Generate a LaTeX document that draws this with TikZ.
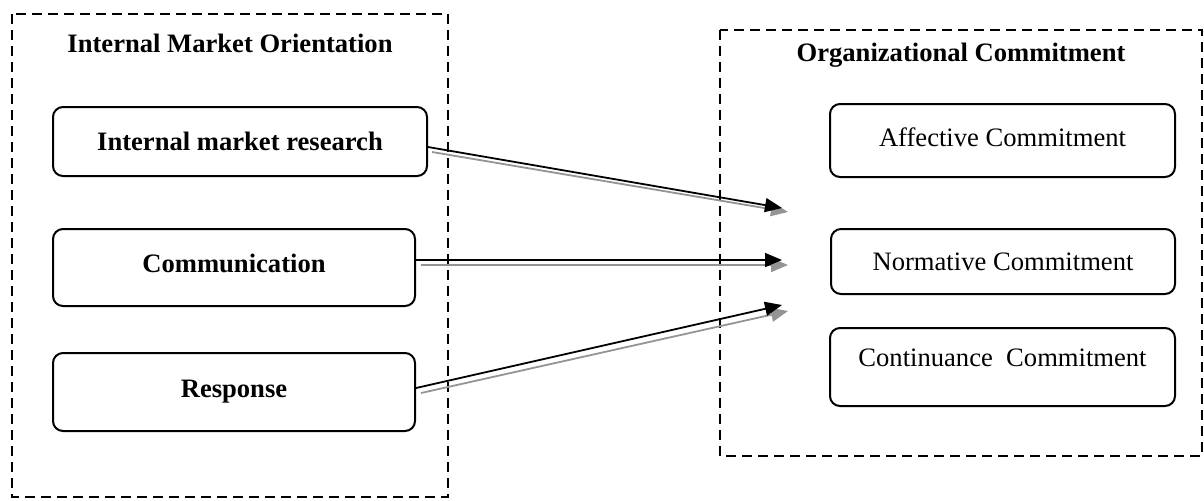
\documentclass[tikz,border=0pt]{standalone}
\usepackage{fontspec}
\setmainfont{Liberation Serif}
\usetikzlibrary{arrows.meta,calc}
\begin{document}
\begin{tikzpicture}[x=0.5pt,y=-0.5pt,
  frame/.style={draw,line width=1.25pt,dash pattern=on 5pt off 3pt},
  box/.style={draw,line width=1pt,rounded corners=5pt,inner sep=0pt,font=\fontsize{13.3}{16}\selectfont},
  title/.style={font=\fontsize{13.3}{16}\selectfont\bfseries,inner sep=0pt},
  blk/.style={line width=0.9pt,-{Triangle[length=8.5pt,width=7pt]}},
  shd/.style={line width=0.9pt,draw=black!42,-{Triangle[length=8.5pt,width=7pt,fill=black!42]}}
]
\useasboundingbox (0,0) rectangle (1204,500);
% frames
\draw[frame] (12,14) rectangle (448,497);
\draw[frame] (720,30) rectangle (1202,456);
\node[title] (imo) at (230,43) {Internal Market Orientation};
\node[title] (oc) at (961,55) {Organizational Commitment};
% left boxes
\node[box,font=\fontsize{13.3}{16}\selectfont\bfseries,minimum width=374pt/2,minimum height=69pt/2] (imr) at (240,141.5) {Internal market research};
\node[box,font=\fontsize{13.3}{16}\selectfont\bfseries,minimum width=362pt/2,minimum height=77pt/2,text depth=4pt] (com) at (234,267.5) {Communication};
\node[box,font=\fontsize{13.3}{16}\selectfont\bfseries,minimum width=362pt/2,minimum height=78pt/2,text depth=3pt] (res) at (234,392) {Response};
% right boxes
\node[box,minimum width=345pt/2,minimum height=73pt/2,text depth=3pt] (ac) at (1002.5,140.5) {Affective Commitment};
\node[box,minimum width=344pt/2,minimum height=65pt/2] (nc) at (1003,261.5) {Normative Commitment};
\node[box,minimum width=345pt/2,minimum height=78pt/2,text depth=9pt] (cc) at (1002.5,367) {Continuance\ \ Commitment};
% arrow tips
\coordinate (t1) at (782,208);
\coordinate (t2) at (782,260);
\coordinate (t3) at (782,305);
\coordinate (g1) at (788,212);
\coordinate (g2) at (788,265);
\coordinate (g3) at (788,311);
% shadows
\draw[shd] ($(imr.east)+(4,10.5)$) -- (g1);
\draw[shd] ($(com.east)+(5,-2.5)$) -- (g2);
\draw[shd] ($(res.east)+(5,1)$) -- (g3);
% black arrows
\draw[blk] ($(imr.east)+(0,5.5)$) -- (t1);
\draw[blk] ($(com.east)+(0,-7.5)$) -- (t2);
\draw[blk] ($(res.east)+(0,-4)$) -- (t3);
\end{tikzpicture}
\end{document}
